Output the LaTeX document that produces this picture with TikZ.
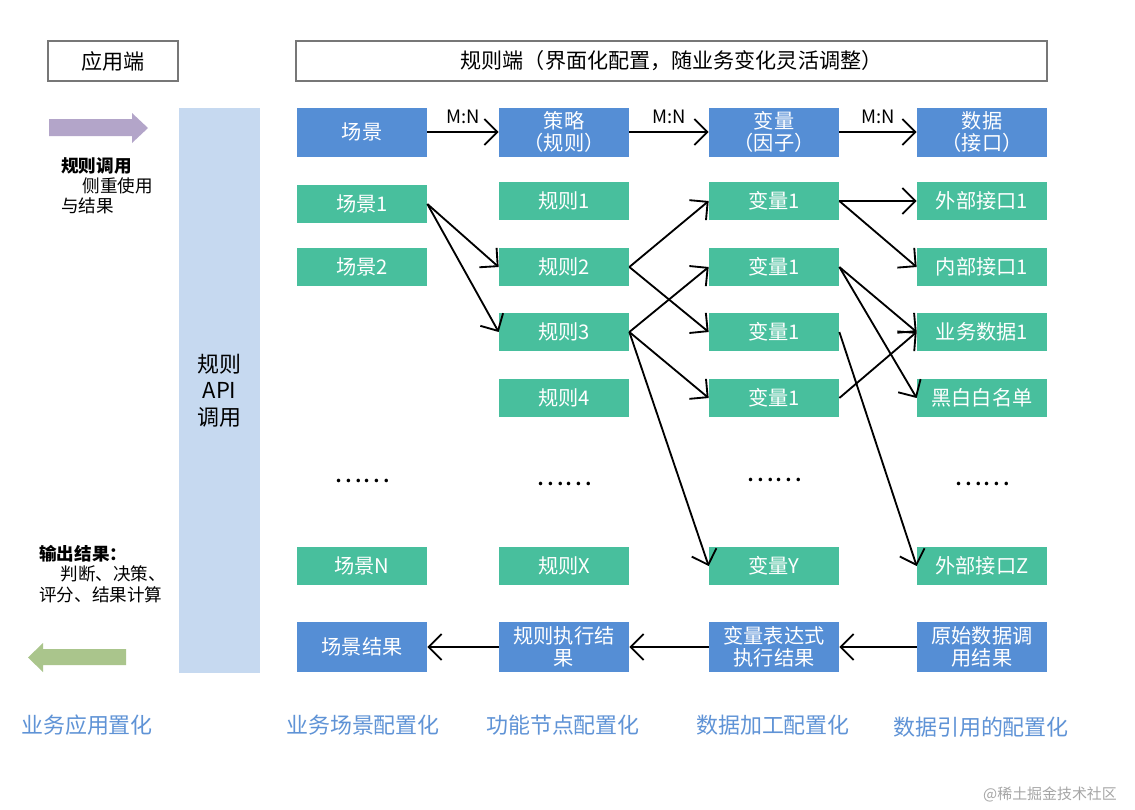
\documentclass[tikz,border=0pt]{standalone}
\usepackage{fontspec}
\setmainfont{Noto Sans CJK SC}
\usetikzlibrary{arrows.meta}
\definecolor{bblue}{HTML}{558ED5}
\definecolor{bgreen}{HTML}{48BF9D}
\definecolor{barblue}{HTML}{C6D9F0}
\definecolor{lblue}{HTML}{5F93D6}
\definecolor{purp}{HTML}{B3A5C9}
\definecolor{lgreen}{HTML}{AAC58C}
\definecolor{outl}{HTML}{777777}
\tikzset{
  gbox/.style={fill=bgreen,text=white,minimum width=2.6cm,minimum height=0.76cm,inner sep=0pt,font=\fontsize{11.5}{13}\selectfont,align=center},
  hbox/.style={fill=bblue,text=white,minimum width=2.6cm,minimum height=0.98cm,inner sep=0pt,font=\fontsize{11.5}{12.5}\selectfont,align=center},
  rbox/.style={fill=bblue,text=white,minimum width=2.6cm,minimum height=1.0cm,inner sep=0pt,font=\fontsize{11.5}{12.5}\selectfont,align=center},
  obox/.style={draw=outl,line width=0.9pt,fill=white,inner sep=0pt,font=\fontsize{12}{14}\selectfont},
  conn/.style={line width=1.05pt,-{Straight Barb[length=2.6mm,width=5.2mm]}},
  mn/.style={font=\fontsize{10.5}{12}\selectfont},
  dots/.style={font=\fontsize{15}{16}\selectfont},
  foot/.style={text=lblue,font=\fontsize{12.5}{14}\selectfont},
}
\begin{document}
\begin{tikzpicture}[x=0.02cm,y=-0.02cm]
\useasboundingbox (0,0) rectangle (1135,809);
\fill[white] (0,0) rectangle (1135,809);
% header outline boxes
\node[obox,minimum width=2.6cm,minimum height=0.8cm] (app) at (113,61) {应用端};
\node[obox,minimum width=15.02cm,minimum height=0.8cm] (rule) at (671.5,61) {规则端（界面化配置，随业务变化灵活调整）};
% API bar
\node[fill=barblue,minimum width=1.62cm,minimum height=11.3cm,inner sep=0pt,align=center,font=\fontsize{12.5}{15}\selectfont] (api) at (219.5,390.5) {规则\\API\\调用};
% big arrows
\fill[purp] (49,119) -- (132,119) -- (132,113) -- (148,128) -- (132,143) -- (132,136) -- (49,136) -- cycle;
\fill[lgreen] (126,649) -- (43,649) -- (43,643) -- (28,657.5) -- (43,672) -- (43,665) -- (126,665) -- cycle;
% left texts
\node[anchor=north west,align=left,inner sep=0pt,font=\fontsize{10}{11.6}\selectfont] (calltxt) at (61,157) {\textbf{规则调用}\\\hspace*{1.2em}侧重使用\\与结果};
\node[anchor=north west,align=left,inner sep=0pt,font=\fontsize{10}{11.6}\selectfont] (outtxt) at (39,545) {\textbf{输出结果：}\\\hspace*{1.2em}判断、决策、\\评分、结果计算};
% header row
\node[hbox] (h1) at (362,132) {场景};
\node[hbox] (h2) at (564,132) {策略\\（规则）};
\node[hbox] (h3) at (774,132) {变量\\（因子）};
\node[hbox] (h4) at (982,132) {数据\\（接口）};
\draw[conn] (h1) -- node[mn,above=1pt] (mn1) {M:N} (h2);
\draw[conn] (h2) -- node[mn,above=1pt] (mn2) {M:N} (h3);
\draw[conn] (h3) -- node[mn,above=1pt] (mn3) {M:N} (h4);
% column 1
\node[gbox] (s1) at (362,204) {场景1};
\node[gbox] (s2) at (362,267) {场景2};
\node[dots] (sd) at (362,481) {……};
\node[gbox] (sn) at (362,566) {场景N};
% column 2
\node[gbox] (r1) at (564,201) {规则1};
\node[gbox] (r2) at (564,267) {规则2};
\node[gbox] (r3) at (564,332) {规则3};
\node[gbox] (r4) at (564,398) {规则4};
\node[dots] (rd) at (564,484) {……};
\node[gbox] (rx) at (564,566) {规则X};
% column 3
\node[gbox] (v1) at (774,201) {变量1};
\node[gbox] (v2) at (774,267) {变量1};
\node[gbox] (v3) at (774,332) {变量1};
\node[gbox] (v4) at (774,398) {变量1};
\node[dots] (vd) at (774,480) {……};
\node[gbox] (vy) at (774,566) {变量Y};
% column 4
\node[gbox] (d1) at (982,201) {外部接口1};
\node[gbox] (d2) at (982,267) {内部接口1};
\node[gbox] (d3) at (982,332) {业务数据1};
\node[gbox] (d4) at (982,398) {黑白白名单};
\node[dots] (dd) at (982,484) {……};
\node[gbox] (dz) at (982,566) {外部接口Z};
% result row
\node[rbox] (e1) at (362,647) {场景结果};
\node[rbox] (e2) at (564,647) {规则执行结\\果};
\node[rbox] (e3) at (774,647) {变量表达式\\执行结果};
\node[rbox] (e4) at (982,647) {原始数据调\\用结果};
% connectors
\draw[conn] (s1.east) -- (r2.west);
\draw[conn] (s1.east) -- (r3.west);
\draw[conn] (r2.east) -- (v1.west);
\draw[conn] (r2.east) -- (v3.west);
\draw[conn] (r3.east) -- (v2.west);
\draw[conn] (r3.east) -- (v4.west);
\draw[conn] (r3.east) -- (vy.west);
\draw[conn] (v1.east) -- (d1.west);
\draw[conn] (v1.east) -- (d2.west);
\draw[conn] (v2.east) -- (d3.west);
\draw[conn] (v2.east) -- (d4.west);
\draw[conn] (v3.east) -- (dz.west);
\draw[conn] (v4.east) -- (d3.west);
\draw[conn] (e4) -- (e3);
\draw[conn] (e3) -- (e2);
\draw[conn] (e2) -- (e1);
% footer labels
\node[foot] (f0) at (87,725) {业务应用置化};
\node[foot] (f1) at (363,725) {业务场景配置化};
\node[foot] (f2) at (563,725) {功能节点配置化};
\node[foot] (f3) at (773,725) {数据加工配置化};
\node[foot] (f4) at (981,727) {数据引用的配置化};
\node[text=black!35,font=\fontsize{8.5}{10}\selectfont] (wm) at (1050,794) {@稀土掘金技术社区};
\end{tikzpicture}
\end{document}
